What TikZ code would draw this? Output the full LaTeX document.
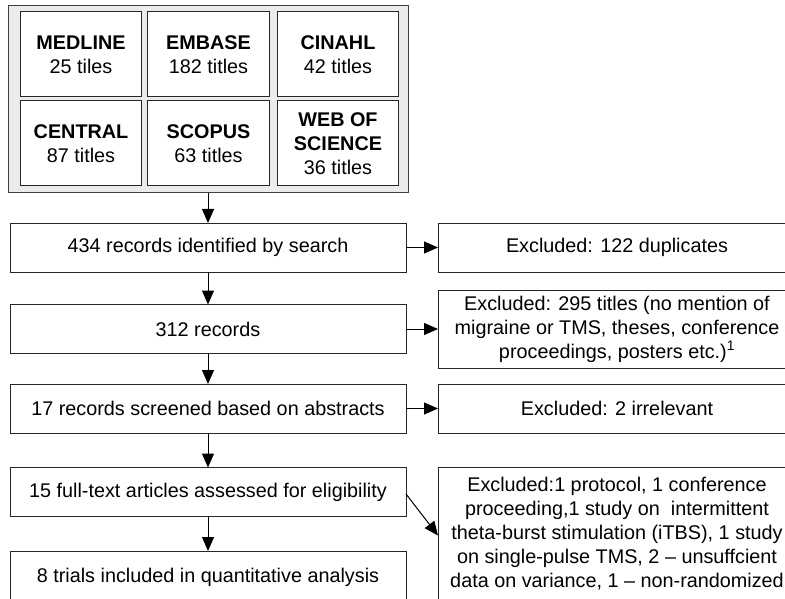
\documentclass[tikz,border=0pt]{standalone}
\usepackage{fontspec}
\setmainfont{Liberation Sans}
\usetikzlibrary{arrows.meta}
\begin{document}
\begin{tikzpicture}[x=1pt,y=-1pt,
  every node/.style={font=\fontsize{19.8}{24}\selectfont, align=center, inner sep=0pt, outer sep=0pt},
  box/.style={draw=black!85, line width=1pt, fill=white, rectangle},
  lbox/.style={box, minimum width=396pt, minimum height=49pt},
  rbox/.style={box, minimum width=358pt},
  dbbox/.style={box, minimum width=121.5pt, minimum height=85pt},
  outerbox/.style={draw=black!75, line width=1pt, fill=black!8, rectangle, minimum width=400pt, minimum height=187pt},
  conn/.style={draw=black, line width=1pt, -{Triangle[length=14pt,width=12pt]}}
]
\useasboundingbox (0,0) rectangle (785,599);
\clip (0,0) rectangle (785,599);
\fill[white] (0,0) rectangle (785,599);

\node[outerbox] (db) at (208,99.5) {};
\node[dbbox] (medline) at (81,54.5) {\textbf{MEDLINE}\\25 tiles};
\node[dbbox] (embase) at (208.5,54.5) {\textbf{EMBASE}\\182 titles};
\node[dbbox] (cinahl) at (338,54.5) {\textbf{CINAHL}\\42 titles};
\node[dbbox] (central) at (81,143.5) {\textbf{CENTRAL}\\87 titles};
\node[dbbox] (scopus) at (208.5,143.5) {\textbf{SCOPUS}\\63 titles};
\node[dbbox] (wos) at (338,143.5) {\textbf{WEB OF}\\\textbf{SCIENCE}\\36 titles};

\node[lbox] (b1) at (208,247.5) {434 records identified by search};
\node[lbox] (b2) at (208,329) {312 records};
\node[lbox] (b3) at (208,408.5) {17 records screened based on abstracts};
\node[lbox] (b4) at (208,492) {15 full-text articles assessed for eligibility};
\node[lbox, minimum height=52pt] (b5) at (208,577) {8 trials included in quantitative analysis};

\node[rbox, minimum height=49pt] (r1) at (617,247.5) {Excluded: 122 duplicates};
\node[rbox, minimum height=78pt] (r2) at (617,329) {Excluded: 295 titles (no mention of\\migraine or TMS, theses, conference\\proceedings, posters etc.)\textsuperscript{1}};
\node[rbox, minimum height=49pt] (r3) at (617,408.5) {Excluded: 2 irrelevant};
\node[rbox, minimum height=133pt] (r4) at (617,533.5) {Excluded:1 protocol, 1 conference\\proceeding,1 study on\ \ intermittent\\theta-burst stimulation (iTBS), 1 study\\on single-pulse TMS, 2 -- unsuffcient\\data on variance, 1 -- non-randomized};

\draw[conn] (db.south) -- (b1.north);
\draw[conn] (b1.south) -- (b2.north);
\draw[conn] (b2.south) -- (b3.north);
\draw[conn] (b3.south) -- (b4.north);
\draw[conn] (b4.south) -- (b5.north);
\draw[conn] (b1.east) -- (r1.west);
\draw[conn] (b2.east) -- (r2.west);
\draw[conn] (b3.east) -- (r3.west);
\draw[conn] ([yshift=-2pt]b4.east) -- ([yshift=-2pt]r4.west);
\end{tikzpicture}
\end{document}
